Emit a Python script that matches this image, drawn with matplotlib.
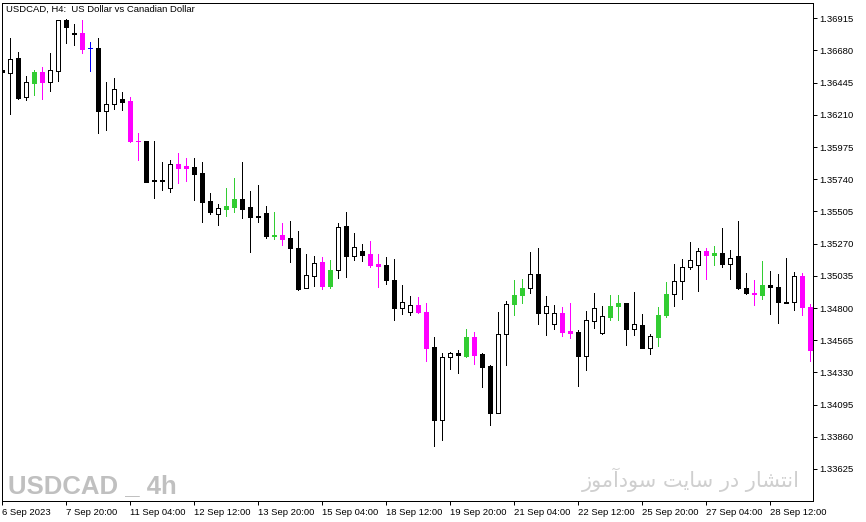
import matplotlib
matplotlib.use('Agg')
import matplotlib.pyplot as plt

plt.rcParams['font.family'] = ['Liberation Sans', 'DejaVu Sans']

# USDCAD H4, bar 0 = 6 Sep 2023 12:00
opens = [1.36535, 1.36518, 1.36623, 1.36342, 1.36442, 1.36521, 1.36452, 1.36533, 1.36900, 1.36807,
         1.36807, 1.36697, 1.36697, 1.36239, 1.36291, 1.36325, 1.36308, 1.36019, 1.36021, 1.35733,
         1.35733, 1.35678, 1.35852, 1.35838, 1.35828, 1.35786, 1.35578, 1.35483, 1.35524, 1.35539,
         1.35593, 1.35534, 1.35470, 1.35490, 1.35326, 1.35336, 1.35309, 1.35235, 1.34947, 1.35035,
         1.35133, 1.34959, 1.35079, 1.35397, 1.35179, 1.35213, 1.35191, 1.35118, 1.35111, 1.35008,
         1.34797, 1.34768, 1.34824, 1.34773, 1.34516, 1.33982, 1.34440, 1.34470, 1.34452, 1.34589,
         1.34464, 1.34376, 1.34033, 1.34609, 1.34826, 1.34893, 1.34944, 1.35050, 1.34763, 1.34682,
         1.34765, 1.34631, 1.34626, 1.34452, 1.34704, 1.34616, 1.34738, 1.34812, 1.34837, 1.34650,
         1.34675, 1.34511, 1.34591, 1.34746, 1.34900, 1.34995, 1.35098, 1.35113, 1.35219, 1.35189,
         1.35201, 1.35120, 1.35177, 1.34947, 1.34910, 1.34898, 1.34971, 1.34954, 1.34841, 1.34841,
         1.35035, 1.34807]
highs = [1.36543, 1.36770, 1.36670, 1.36491, 1.36535, 1.36557, 1.36660, 1.36902, 1.36910, 1.36873,
         1.36902, 1.36741, 1.36770, 1.36447, 1.36477, 1.36379, 1.36337, 1.36080, 1.36022, 1.36021,
         1.35867, 1.35879, 1.35933, 1.35896, 1.35896, 1.35867, 1.35639, 1.35556, 1.35674, 1.35747,
         1.35867, 1.35654, 1.35698, 1.35542, 1.35498, 1.35424, 1.35434, 1.35360, 1.35191, 1.35177,
         1.35169, 1.35147, 1.35419, 1.35500, 1.35346, 1.35265, 1.35287, 1.35191, 1.35169, 1.35155,
         1.34971, 1.34890, 1.34883, 1.34839, 1.34589, 1.34470, 1.34481, 1.34494, 1.34648, 1.34626,
         1.34470, 1.34384, 1.34773, 1.34851, 1.35008, 1.35015, 1.35206, 1.35235, 1.34890, 1.34822,
         1.34807, 1.34839, 1.34641, 1.34775, 1.34912, 1.34817, 1.34895, 1.34895, 1.34839, 1.34920,
         1.34758, 1.34609, 1.34804, 1.34993, 1.35118, 1.35155, 1.35280, 1.35235, 1.35241, 1.35255,
         1.35382, 1.35223, 1.35434, 1.35052, 1.35008, 1.35140, 1.35067, 1.35045, 1.35162, 1.35064,
         1.35052, 1.34829]
lows = [1.36513, 1.36220, 1.36326, 1.36317, 1.36354, 1.36325, 1.36381, 1.36457, 1.36736, 1.36721,
        1.36662, 1.36530, 1.36075, 1.36097, 1.36251, 1.36244, 1.36014, 1.35877, 1.35718, 1.35605,
        1.35664, 1.35649, 1.35715, 1.35730, 1.35590, 1.35429, 1.35487, 1.35407, 1.35473, 1.35502,
        1.35458, 1.35208, 1.35429, 1.35311, 1.35307, 1.35260, 1.35135, 1.34929, 1.34944, 1.34959,
        1.34937, 1.34944, 1.35017, 1.35025, 1.35150, 1.35142, 1.35098, 1.34951, 1.34973, 1.34709,
        1.34753, 1.34746, 1.34760, 1.34415, 1.33791, 1.33835, 1.34356, 1.34327, 1.34445, 1.34393,
        1.34224, 1.33945, 1.34030, 1.34386, 1.34746, 1.34834, 1.34907, 1.34680, 1.34606, 1.34650,
        1.34599, 1.34584, 1.34232, 1.34349, 1.34657, 1.34613, 1.34709, 1.34716, 1.34533, 1.34606,
        1.34508, 1.34467, 1.34525, 1.34731, 1.34817, 1.34863, 1.35083, 1.34922, 1.35010, 1.35113,
        1.35098, 1.35010, 1.34941, 1.34905, 1.34819, 1.34863, 1.34753, 1.34694, 1.34834, 1.34782,
        1.34746, 1.34415]
closes = [1.36521, 1.36621, 1.36330, 1.36447, 1.36521, 1.36447, 1.36535, 1.36900, 1.36853, 1.36800,
          1.36692, 1.36697, 1.36236, 1.36291, 1.36396, 1.36305, 1.36016, 1.36017, 1.35722, 1.35727,
          1.35727, 1.35852, 1.35825, 1.35825, 1.35781, 1.35575, 1.35502, 1.35527, 1.35542, 1.35593,
          1.35524, 1.35465, 1.35465, 1.35326, 1.35336, 1.35304, 1.35238, 1.34942, 1.35042, 1.35130,
          1.34959, 1.35081, 1.35395, 1.35179, 1.35248, 1.35186, 1.35113, 1.35105, 1.35003, 1.34797,
          1.34844, 1.34822, 1.34768, 1.34511, 1.33982, 1.34440, 1.34470, 1.34459, 1.34589, 1.34459,
          1.34371, 1.34033, 1.34611, 1.34832, 1.34898, 1.34949, 1.35050, 1.34760, 1.34815, 1.34763,
          1.34628, 1.34621, 1.34452, 1.34712, 1.34800, 1.34741, 1.34817, 1.34837, 1.34650, 1.34682,
          1.34511, 1.34599, 1.34749, 1.34905, 1.35000, 1.35101, 1.35147, 1.35219, 1.35186, 1.35201,
          1.35120, 1.35167, 1.34944, 1.34907, 1.34900, 1.34969, 1.34954, 1.34841, 1.34836, 1.35035,
          1.34807, 1.34496]
# bars marked by the indicator (coloured candles)
marked = [0, 0, 0, 0, 1, 1, 0, 0, 0, 0, 1, 1, 0, 0, 0, 0, 1, 1, 0, 0, 0, 0, 1, 1,
          0, 0, 0, 0, 1, 1, 0, 0, 0, 0, 1, 1, 0, 0, 0, 0, 1, 1, 0, 0, 0, 0, 1, 1,
          0, 0, 0, 0, 1, 1, 0, 0, 0, 0, 1, 1, 0, 0, 0, 0, 1, 1, 0, 0, 0, 0, 1, 1,
          0, 0, 0, 0, 1, 1, 0, 0, 0, 0, 1, 1, 0, 0, 0, 0, 1, 1, 0, 0, 0, 0, 1, 1,
          0, 0, 0, 0, 1, 1]

time_ticks = [0, 8, 16, 24, 32, 40, 48, 56, 64, 72, 80, 88, 96]
time_labels = ['6 Sep 2023', '7 Sep 20:00', '11 Sep 04:00', '12 Sep 12:00', '13 Sep 20:00',
               '15 Sep 04:00', '18 Sep 12:00', '19 Sep 20:00', '21 Sep 04:00', '22 Sep 12:00',
               '25 Sep 20:00', '27 Sep 04:00', '28 Sep 12:00']
price_ticks = [1.36915, 1.36680, 1.36445, 1.36210, 1.35975, 1.35740, 1.35505, 1.35270,
               1.35035, 1.34800, 1.34565, 1.34330, 1.34095, 1.33860, 1.33625]

title = 'USDCAD, H4:  US Dollar vs Canadian Dollar'
mark_left = 'USDCAD _ 4h'
mark_right = 'انتشار در سایت سودآموز'


# simple arabic-script shaping (matplotlib has no bidi / joining)
FORMS = {  # isolated, final, initial, medial
    'ا': ('\uFE8D', '\uFE8E', None, None),
    'آ': ('\uFE81', '\uFE82', None, None),
    'ن': ('\uFEE5', '\uFEE6', '\uFEE7', '\uFEE8'),
    'ت': ('\uFE95', '\uFE96', '\uFE97', '\uFE98'),
    'ش': ('\uFEB5', '\uFEB6', '\uFEB7', '\uFEB8'),
    'ر': ('\uFEAD', '\uFEAE', None, None),
    'د': ('\uFEA9', '\uFEAA', None, None),
    'س': ('\uFEB1', '\uFEB2', '\uFEB3', '\uFEB4'),
    'ی': ('\uFBFC', '\uFBFD', '\uFEF3', '\uFEF4'),
    'و': ('\uFEED', '\uFEEE', None, None),
    'م': ('\uFEE1', '\uFEE2', '\uFEE3', '\uFEE4'),
    'ز': ('\uFEAF', '\uFEB0', None, None),
}


def shape(text):
    words = []
    for w in text.split(' '):
        g = []
        for i, ch in enumerate(w):
            f = FORMS[ch]
            prev_j = i > 0 and FORMS[w[i - 1]][2] is not None
            next_j = i < len(w) - 1 and f[2] is not None
            if prev_j and next_j:
                g.append(f[3])
            elif prev_j:
                g.append(f[1])
            elif next_j:
                g.append(f[2])
            else:
                g.append(f[0])
        words.append(''.join(reversed(g)))
    return ' '.join(reversed(words))


W, H = 866, 522
fig = plt.figure(figsize=(W / 100, H / 100), dpi=100)
ax = fig.add_axes([2 / W, 1 - 501 / H, 811 / W, 498.3 / H])

n = len(opens)
xs = list(range(n))
face, edge = [], []
for o, c, m in zip(opens, closes, marked):
    if m:
        col = '#32CD32' if c > o else ('#FF00FF' if c < o else '#0000FF')
        face.append(col)
        edge.append(col)
    elif c >= o:
        face.append('white')
        edge.append('black')
    else:
        face.append('black')
        edge.append('black')

ax.vlines(xs, lows, highs, colors=edge, linewidth=0.72, antialiased=False, zorder=2)
bottoms = [min(o, c) for o, c in zip(opens, closes)]
heights = [abs(c - o) for o, c in zip(opens, closes)]
ax.bar(xs, heights, bottom=bottoms, width=0.5, color=face, edgecolor=edge,
       linewidth=0.72, antialiased=False, zorder=3)

ax.set_xlim(-0.0375, 101.34)
ax.set_ylim(1.333911, 1.370289)

ax.yaxis.tick_right()
ax.set_yticks(price_ticks)
ax.set_yticklabels(['%.5f' % p for p in price_ticks])
ax.set_xticks(time_ticks)
ax.set_xticklabels(time_labels)
for lbl in ax.get_xticklabels():
    lbl.set_horizontalalignment('left')
ax.tick_params(axis='y', direction='out', length=3, width=0.72, pad=1.5, labelsize=6.8, colors='black')
ax.tick_params(axis='x', direction='out', length=3, width=0.72, pad=2, labelsize=6.8, colors='black')
for s in ax.spines.values():
    s.set_linewidth(0.72)
    s.set_color('black')

fig.text(6 / W, 1 - 9 / H, title, fontsize=6.8, va='center', ha='left')
# watermarks
fig.text(8 / W, 1 - 493 / H, mark_left, fontsize=18.5, fontweight='bold', color='#C0C0C0',
         va='baseline', ha='left')
fig.text(800 / W, 1 - 480 / H, shape(mark_right), fontsize=15, color='#CFCFCF',
         va='center', ha='right', family=['DejaVu Sans'])

fig.savefig('out.png', dpi=100)
